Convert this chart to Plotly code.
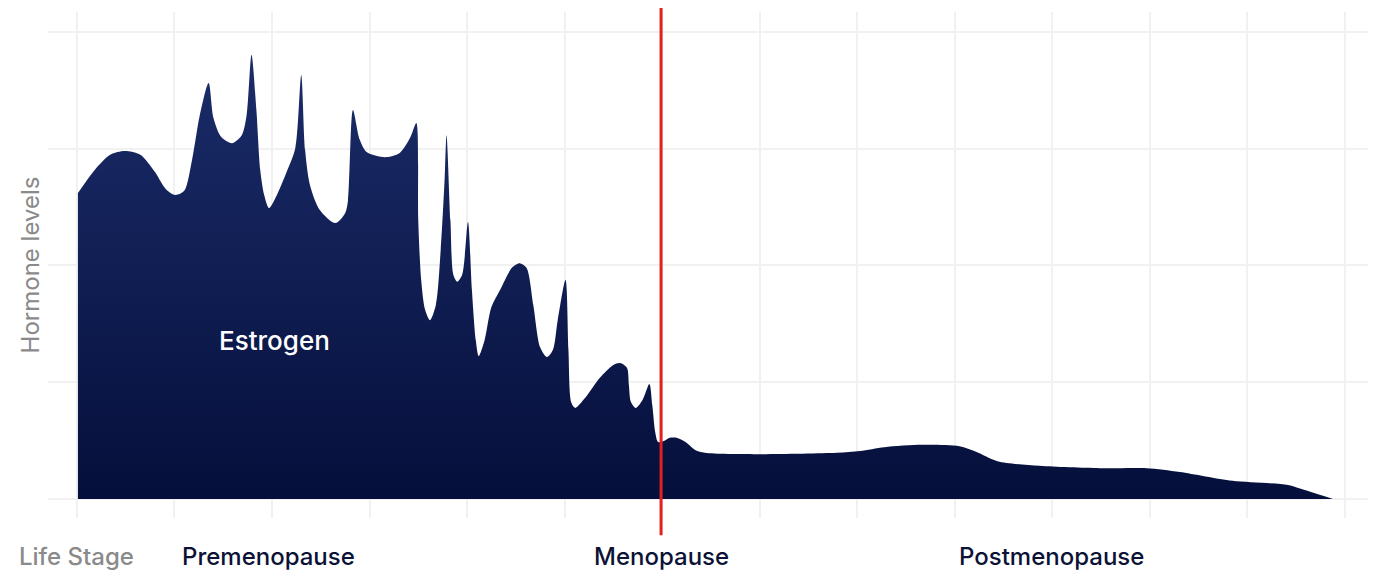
import plotly.graph_objects as go

# Estrogen curve (x: grid columns 0..13, y: 0..100 scale)
stage_x = [0.01, 0.18, 0.34, 0.49, 0.65, 0.80, 0.91, 1.01, 1.10, 1.18, 1.26, 1.35, 1.40, 1.48,
           1.59, 1.69, 1.74, 1.79, 1.84, 1.88, 1.92, 1.97, 2.05, 2.15, 2.24, 2.30, 2.34, 2.39,
           2.49, 2.65, 2.75, 2.78, 2.83, 2.90, 2.97, 3.16, 3.31, 3.42, 3.48, 3.50, 3.53, 3.57,
           3.62, 3.68, 3.73, 3.77, 3.79, 3.83, 3.86, 3.90, 3.95, 4.01, 4.05, 4.09, 4.12, 4.18,
           4.25, 4.34, 4.46, 4.54, 4.61, 4.68, 4.75, 4.82, 4.88, 4.93, 5.01, 5.04, 5.07, 5.11,
           5.21, 5.36, 5.50, 5.57, 5.64, 5.66, 5.68, 5.73, 5.80, 5.87, 5.90, 5.93, 5.96, 6.02,
           6.08, 6.15, 6.24, 6.34, 6.44, 6.97, 7.79, 8.03, 8.28, 8.67, 9.05, 9.22, 9.44, 9.87,
           10.49, 10.97, 11.31, 11.85, 12.42, 12.59, 12.88]
estrogen = [65.5, 70.4, 73.7, 74.5, 73.7, 70.0, 66.4, 65.1, 66.0, 72.6, 82.2, 89.1, 81.6, 77.5,
            76.2, 77.9, 82.2, 95.1, 83.3, 70.4, 65.1, 62.3, 65.1, 70.0, 75.2, 90.8, 74.7, 67.2,
            61.9, 59.1, 61.2, 64.0, 83.3, 76.9, 74.3, 73.2, 74.1, 77.5, 80.5, 59.7, 46.9, 40.5,
            38.3, 41.5, 53.3, 68.3, 77.9, 59.7, 48.0, 46.5, 48.0, 59.3, 44.8, 34.0, 30.6, 34.0,
            41.1, 44.8, 49.5, 50.5, 49.5, 41.5, 32.5, 30.4, 31.9, 38.3, 46.9, 31.9, 20.6, 19.5,
            21.6, 25.9, 28.7, 29.1, 28.1, 24.4, 20.8, 19.5, 21.2, 24.6, 20.1, 14.3, 12.2, 12.4,
            13.1, 13.1, 12.2, 10.5, 9.9, 9.6, 9.9, 10.3, 11.1, 11.6, 11.3, 10.1, 8.1, 7.1,
            6.6, 6.6, 5.8, 3.9, 3.0, 1.9, 0.0]

grid_x = list(range(14))
grid_y = [0, 25, 50, 75, 100]

stage_labels = ["Life Stage", "Premenopause", "Menopause", "Postmenopause"]
stage_pos = [0, 1.96, 5.99, 9.99]
menopause_x = 5.99

fig = go.Figure()
fig.add_trace(go.Scatter(
    x=stage_x, y=estrogen,
    mode="lines",
    line=dict(width=0, shape="spline", smoothing=0.8),
    fill="tozeroy",
    fillgradient=dict(type="vertical",
                      colorscale=[[0, "#050f3b"], [1, "#1b2c69"]]),
    hoverinfo="skip",
    showlegend=False,
))

# red menopause marker, runs past the plot area like the original
fig.add_shape(type="line", xref="x", yref="paper",
              x0=menopause_x, x1=menopause_x, y0=-0.034, y1=1.01,
              line=dict(color="#e3211c", width=3))

fig.add_annotation(x=2.03, y=34, xref="x", yref="y", text="Estrogen", showarrow=False,
                   font=dict(family="Inter", size=26, color="white", weight=500))

for i, (lab, pos) in enumerate(zip(stage_labels, stage_pos)):
    fig.add_annotation(x=pos, y=-0.077, xref="x", yref="paper", text=lab, showarrow=False,
                       yanchor="middle",
                       font=dict(family="Inter", size=24, weight=500,
                                 color="#8a8a8a" if i == 0 else "#0b1235"))

fig.update_layout(
    width=1376, height=585,
    margin=dict(l=40, r=14, t=4, b=75),
    paper_bgcolor="white", plot_bgcolor="white",
    font=dict(family="Inter"),
)
fig.update_xaxes(range=[-0.297, 13.26], tickvals=grid_x, showticklabels=False,
                 showgrid=True, gridcolor="#f1f1f1", gridwidth=1.5, zeroline=False,
                 showline=False)
fig.update_yaxes(range=[-4.07, 104.28], tickvals=grid_y, showticklabels=False,
                 showgrid=True, gridcolor="#f1f1f1", gridwidth=1.5, zeroline=False,
                 showline=False,
                 title=dict(text="Hormone levels", standoff=0,
                            font=dict(family="Inter", size=24, color="#8a8a8a")))

fig.write_html("out.html")
